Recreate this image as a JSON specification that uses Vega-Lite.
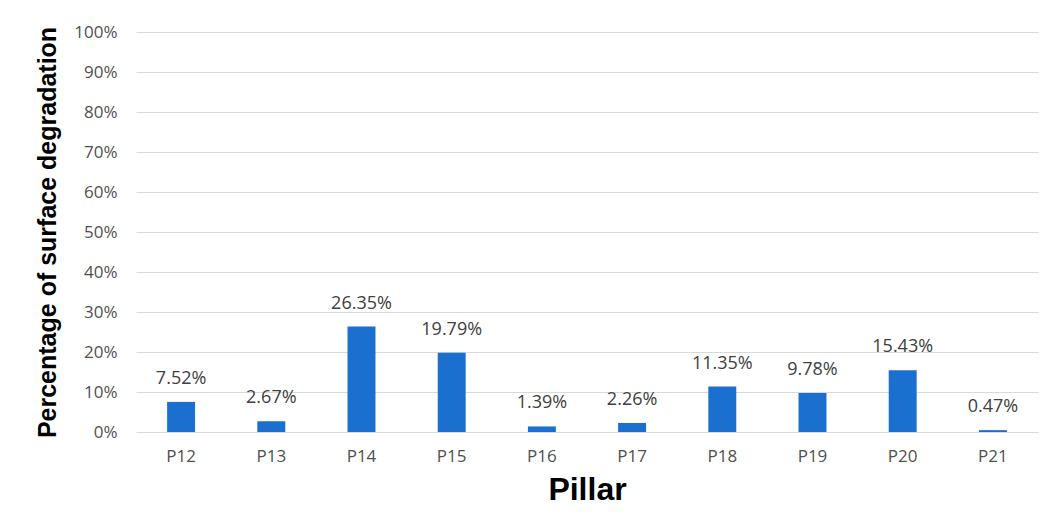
{
  "$schema": "https://vega.github.io/schema/vega-lite/v6.json",
  "width": 902,
  "height": 400,
  "autosize": {"type": "none"},
  "padding": {"left": 136, "top": 32, "right": 12, "bottom": 97},
  "background": "white",
  "config": {
    "view": {"stroke": null},
    "axis": {"labelFont": "Open Sans", "titleFont": "Liberation Sans", "labelColor": "#505050", "titleColor": "#000000"}
  },
  "data": {
    "values": [
      {"pillar": "P12", "pct": 0.0752},
      {"pillar": "P13", "pct": 0.0267},
      {"pillar": "P14", "pct": 0.2635},
      {"pillar": "P15", "pct": 0.1979},
      {"pillar": "P16", "pct": 0.0139},
      {"pillar": "P17", "pct": 0.0226},
      {"pillar": "P18", "pct": 0.1135},
      {"pillar": "P19", "pct": 0.0978},
      {"pillar": "P20", "pct": 0.1543},
      {"pillar": "P21", "pct": 0.0047}
    ]
  },
  "encoding": {
    "x": {
      "field": "pillar", "type": "nominal", "sort": null,
      "scale": {"paddingInner": 0.69, "paddingOuter": 0.345},
      "axis": {
        "title": "Pillar", "titleFontSize": 32, "titleFontWeight": "bold", "titlePadding": 10,
        "labelAngle": 0, "labelFontSize": 17, "labelPadding": 16, "ticks": false, "domain": false, "grid": false
      }
    },
    "y": {
      "field": "pct", "type": "quantitative",
      "scale": {"domain": [0, 1]},
      "axis": {
        "title": "Percentage of surface degradation", "titleFontSize": 25, "titleFontWeight": "bold", "titlePadding": 13,
        "format": ".0%", "values": [0, 0.1, 0.2, 0.3, 0.4, 0.5, 0.6, 0.7, 0.8, 0.9, 1],
        "labelFontSize": 17, "labelPadding": 19, "ticks": false, "domain": false,
        "grid": true, "gridColor": "#d9d9d9", "gridWidth": 1
      }
    }
  },
  "layer": [
    {"mark": {"type": "bar", "color": "#1B70CF"}},
    {
      "mark": {"type": "text", "font": "Open Sans", "fontSize": 18, "color": "#404040", "baseline": "alphabetic", "dy": -18},
      "encoding": {"text": {"field": "pct", "type": "quantitative", "format": ".2%"}}
    }
  ]
}
